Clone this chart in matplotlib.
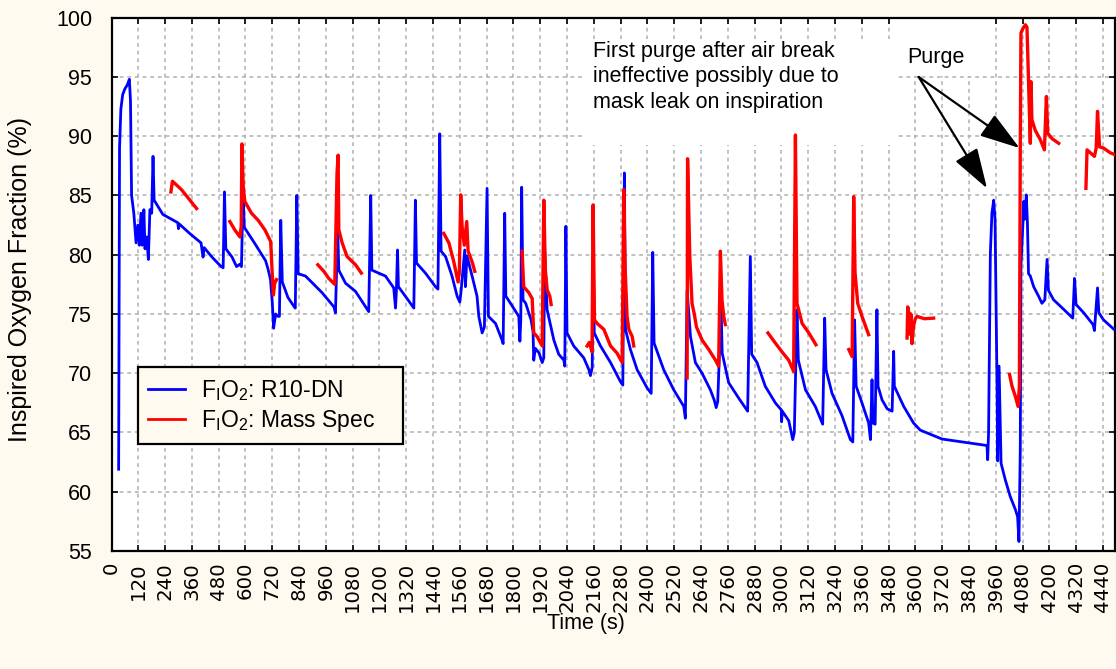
import numpy as np
import matplotlib
matplotlib.use("Agg")
import matplotlib.pyplot as plt
from matplotlib.patches import Rectangle

nan = np.nan

# ---------------- data ----------------
blue_t = [32, 36, 42, 50, 60, 70, 80, 85, 90, 100, 110, 118, 125, 132, 138, 145, 150, 158, 165, 172,
          180, 186, 191, 230, 297, 300, 303, 350, 401, 410, 415, 450, 491, 500, 506, 512, 540, 560,
          575, 582, 589, 595, 640, 690, 701, 712, 720, 726, 735, 745, 752, 758, 765, 790, 815, 823,
          830, 836,
          869, 943, 996, 1003, 1013, 1018, 1048, 1093, 1152, 1161, 1166, 1227, 1264, 1272, 1276,
          1281, 1285, 1316, 1354, 1361, 1366, 1406, 1451, 1462, 1470, 1476, 1496, 1525, 1548, 1560,
          1566, 1582, 1585, 1592, 1615, 1637, 1645, 1660, 1670, 1682, 1688, 1720, 1749, 1754,
          1761, 1766, 1787, 1824, 1829, 1833, 1837, 1843, 1855, 1879, 1888, 1891, 1898, 1915, 1929,
          1936, 1940, 1951, 1981, 2003, 2026, 2030, 2035, 2040, 2070, 2115, 2138, 2145, 2153, 2157,
          2162, 2190, 2235, 2279, 2290, 2297, 2302, 2324, 2354, 2399, 2417, 2424, 2430, 2473, 2518,
          2563, 2570, 2578, 2593, 2615,
          2645, 2682, 2700, 2708, 2715, 2730, 2735, 2764, 2809, 2849, 2861, 2867, 2891, 2928, 2973,
          3000, 3001, 3004, 3033, 3051, 3058, 3070, 3076, 3108, 3152, 3185, 3194, 3200, 3227, 3272,
          3309, 3320, 3328, 3335, 3361, 3391, 3399, 3406, 3410, 3420, 3428, 3433, 3451, 3474, 3496,
          3503, 3506, 3548, 3592, 3622, 3719, 3846, 3921, 3924, 3928, 3936, 3943, 3951, 3957, 3966,
          3969, 3975, 3984, 4003, 4025, 4048, 4058, 4064, 4070, 4073, 4082, 4085, 4090, 4097, 4102,
          4107, 4115, 4130, 4152, 4167, 4180, 4190, 4196, 4219, 4264, 4305, 4313, 4320, 4354, 4396,
          4402, 4416, 4422, 4443, 4490]
blue_v = [61.9, 89.0, 92.3, 93.5, 94.0, 94.3, 94.8, 93.0, 85.0, 83.5, 81.0, 82.5, 80.8, 83.5, 80.8,
          83.8, 80.5, 81.5, 79.6, 83.8, 83.5, 88.3, 84.6, 83.4, 82.7, 82.2, 82.6, 81.8, 81.0, 79.8,
          80.6, 79.8, 79.0, 78.9, 85.3, 80.5, 79.8, 79.0, 79.2, 79.0, 85.2, 82.3, 81.0, 79.5, 78.8,
          77.9, 76.0, 73.8, 75.0, 74.8, 74.8, 82.9, 77.7, 76.4, 75.7, 75.5, 85.0, 78.4,
          78.2, 76.8, 75.6, 75.1, 82.2, 78.7, 77.6, 76.9, 75.2, 85.0, 78.7, 78.2, 77.2, 75.5, 77.0,
          80.4, 77.3, 76.5, 75.5, 84.6, 79.3, 78.45, 77.3, 77.1, 90.2, 80.3, 79.85, 78.2, 76.5, 76.0,
          77.0, 80.4, 77.3, 79.9, 78.2, 76.5, 74.8, 73.4, 73.9, 85.6, 74.8, 74.2, 72.8, 72.5,
          83.5, 76.5, 75.9, 74.8, 72.7, 74.5, 85.7, 76.2, 75.9, 74.5, 73.5, 71.1, 72.1, 71.7, 70.9,
          71.3, 80.4, 75.35, 72.8, 71.6, 71.1, 70.6, 82.4, 73.4, 72.3, 71.3, 70.3, 69.8, 70.5, 82.0,
          73.4, 72.3, 70.9, 69.3, 69.0, 86.9, 73.7, 72.0, 70.3, 68.75, 68.3, 80.2, 72.55, 70.3, 68.6,
          67.2, 66.2, 77.0, 73.1, 70.9,
          70.0, 68.6, 67.7, 67.1, 67.6, 75.6, 71.7, 69.2, 67.9, 66.8, 79.85, 71.6, 70.9, 68.9, 67.5,
          66.9, 65.9, 66.8, 66.0, 64.4, 65.0, 75.35, 71.1, 68.6, 67.2, 65.7, 74.65, 70.3, 68.3, 66.4,
          64.4, 64.2, 74.5, 68.9, 67.5, 65.8, 64.4, 69.45, 65.8, 65.7, 75.35, 68.9, 67.75, 67.0, 66.8,
          71.85, 68.9, 67.2, 65.8, 65.2, 64.45, 64.1, 63.9, 62.7, 65.0, 80.1, 83.5, 84.6, 83.0, 68.9,
          62.6, 70.6, 62.4, 61.0, 59.6, 58.5, 57.9, 55.8, 63.5, 79.0, 82.7, 84.5, 83.0, 85.05, 82.7,
          78.4, 78.2, 77.3, 76.5, 75.9, 76.2, 79.6, 77.0, 76.2, 75.4, 74.65, 78.0, 75.8, 75.1, 74.1,
          73.6, 77.2, 75.1, 74.5, 73.7]

red_t = [266, 273, 290, 313, 343, 381, nan,
         530, 552, 575, 581, 584, 590, 597, 627, 657, 687, 713, 719, 725, 731, 739, nan,
         924, 951, 973, 1000, 1010, 1015, 1018, 1033, 1055, 1093, 1119, nan,
         1488, 1511, 1533, 1552, 1558, 1564, 1570, 1580, 1591, 1597, 1615, 1627, nan,
         1839, 1846, 1869, 1884, 1891, 1906, 1929, 1936, 1943, 1951, 1963, 1969, nan,
         2130, 2140, 2152, 2157, 2163, 2175, 2205, 2235, 2264, 2287, 2294, 2300, 2309, 2317, 2332,
         2339, nan,
         2578, 2580, 2590, 2600, 2610, 2620, 2645, 2675, 2705, 2719, 2727, 2734, 2742, 2749, nan,
         2940, 2973, 3003, 3033, 3055, 3063, 3070, 3093, 3123, 3155, nan,
         3302, 3317, 3324, 3330, 3342, 3361, 3391, nan,
         3563, 3566, 3570, 3575, 3580, 3585, 3592, 3600, 3607, 3640, 3682, nan,
         4022, 4033, 4048, 4060, 4066, 4070, 4073, 4082, 4093, 4100, 4107, 4112, 4115, 4118, 4122,
         4137, 4160, 4178, 4187, 4193, 4212, 4242, nan,
         4364, 4369, 4384, 4402, 4410, 4416, 4425, 4443, 4473, 4499]
red_v = [85.3, 86.2, 85.9, 85.5, 84.8, 83.9, nan,
         82.8, 82.1, 81.5, 82.4, 89.35, 85.75, 84.5, 83.5, 82.9, 82.1, 81.1, 78.7, 76.6, 77.6, 77.9, nan,
         79.15, 78.6, 78.0, 77.5, 86.9, 88.4, 82.1, 81.0, 79.85, 79.15, 78.45, nan,
         81.8, 81.0, 79.4, 77.7, 78.6, 85.05, 82.4, 80.8, 82.8, 80.3, 79.4, 78.6, nan,
         80.3, 77.3, 76.8, 76.3, 73.4, 73.1, 72.3, 84.6, 78.7, 77.05, 76.5, 75.8, nan,
         72.3, 72.6, 71.8, 84.2, 74.5, 74.2, 73.7, 72.3, 71.7, 70.9, 85.5, 79.0, 74.8, 73.7, 73.1,
         72.3, nan,
         69.6, 88.1, 79.85, 75.9, 75.0, 73.9, 72.8, 72.0, 71.1, 70.6, 80.3, 76.2, 74.8, 74.1, nan,
         73.4, 72.55, 71.8, 71.1, 70.15, 90.1, 75.9, 74.2, 73.4, 72.4, nan,
         72.0, 71.4, 84.9, 78.5, 75.9, 74.8, 73.25, nan,
         72.97, 75.6, 75.2, 73.3, 75.0, 72.5, 74.0, 74.6, 74.8, 74.6, 74.65, nan,
         69.9, 68.9, 68.05, 67.2, 68.9, 89.0, 98.7, 99.1, 99.4, 99.2, 94.75, 91.4, 89.4, 94.6, 91.4,
         90.5, 89.7, 88.85, 93.35, 90.25, 89.8, 89.4, nan,
         85.6, 88.85, 88.6, 88.3, 89.0, 92.1, 89.1, 89.0, 88.6, 88.4]

x_ticks = list(range(0, 4441, 120))
y_ticks = list(range(55, 101, 5))

label_blue = r'F$_{\mathregular{I}}$O$_{\mathregular{2}}$: R10-DN'
label_red = r'F$_{\mathregular{I}}$O$_{\mathregular{2}}$: Mass Spec'
note_text = "First purge after air break\nineffective possibly due to\nmask leak on inspiration"
purge_text = "Purge"

# ---------------- style ----------------
plt.rcParams['font.family'] = ['Liberation Sans', 'DejaVu Sans']
plt.rcParams['mathtext.default'] = 'regular'
BG = '#FEFAEF'

fig = plt.figure(figsize=(11.16, 6.69), dpi=100, facecolor=BG)
L, R, T, B = 111.5, 1114.5, 17.7, 551.0
W, H = 1116.0, 669.0
ax = fig.add_axes([L / W, 1 - B / H, (R - L) / W, (B - T) / H])
ax.set_facecolor('white')

ax.plot(blue_t, blue_v, color='#0000FF', lw=2.0, zorder=3, label=label_blue,
        solid_joinstyle='round')
ax.plot(red_t, red_v, color='#FF0000', lw=2.4, zorder=4, label=label_red,
        solid_joinstyle='round')

ax.set_xlim(0, 4492)
ax.set_ylim(55, 100)
ax.set_xticks(x_ticks)
ax.set_yticks(y_ticks)
ax.set_xticklabels([str(v) for v in x_ticks], rotation=90, family='DejaVu Sans', fontsize=14.2)
ax.set_yticklabels([str(v) for v in y_ticks], fontsize=15.5)
ax.tick_params(axis='both', direction='in', top=True, right=True, length=4, width=1.2,
               color='black')
ax.tick_params(axis='x', pad=8)
ax.tick_params(axis='y', pad=14)
for s in ax.spines.values():
    s.set_linewidth(1.6)
    s.set_color('black')
ax.grid(True, color='#b0b0b0', linestyle=(0, (2.5, 2.5)), lw=1.1, zorder=0.5)
ax.set_axisbelow(True)

# white boxes behind annotation text
ax.add_patch(Rectangle(((582 - L) / (R - L), (B - 145) / (B - T)), (895 - 582) / (R - L),
                       (145 - 39) / (B - T), transform=ax.transAxes, facecolor='white',
                       edgecolor='none', zorder=1))
ax.add_patch(Rectangle(((897 - L) / (R - L), (B - 76) / (B - T)), (983 - 897) / (R - L),
                       (76 - 19) / (B - T), transform=ax.transAxes, facecolor='white',
                       edgecolor='none', zorder=1))

ax.text(2158, 95.0, note_text, fontsize=15.5, ha='left', va='center', linespacing=1.28,
        zorder=5)
ax.text(3565, 96.6, purge_text, fontsize=15.5, ha='left', va='center', zorder=5)
arrow_kw = dict(arrowstyle='-|>,head_length=1.0,head_width=0.32', mutation_scale=25,
                lw=1.6, color='black', shrinkA=0, shrinkB=0)
ax.annotate('', xy=(3921, 85.6), xytext=(3615, 95.0), arrowprops=arrow_kw, zorder=6)
ax.annotate('', xy=(4067, 89.0), xytext=(3615, 95.0), arrowprops=arrow_kw, zorder=6)

leg_x0 = (138 - L) / (R - L)
leg_y0 = (B - 444) / (B - T)
leg_w = (403 - 138) / (R - L)
leg_h = (444 - 368) / (B - T)
leg = ax.legend(loc='lower left', bbox_to_anchor=(leg_x0, leg_y0, leg_w, leg_h), mode='expand',
                borderaxespad=0, fontsize=16.5, frameon=True, fancybox=False, facecolor=BG,
                edgecolor='black', framealpha=1, handlelength=1.6, handletextpad=0.7,
                borderpad=0.45, labelspacing=0.22)
leg.get_frame().set_linewidth(1.6)
leg.set_zorder(7)
for line in leg.get_lines():
    line.set_linewidth(2.0)

fig.text(20 / W, 1 - 280 / H, 'Inspired Oxygen Fraction (%)', rotation=90, ha='center',
         va='center', fontsize=18)
fig.text(586 / W, 1 - 623 / H, 'Time (s)', ha='center', va='center', fontsize=15.5)

fig.savefig('out.png', dpi=100, facecolor=BG)
